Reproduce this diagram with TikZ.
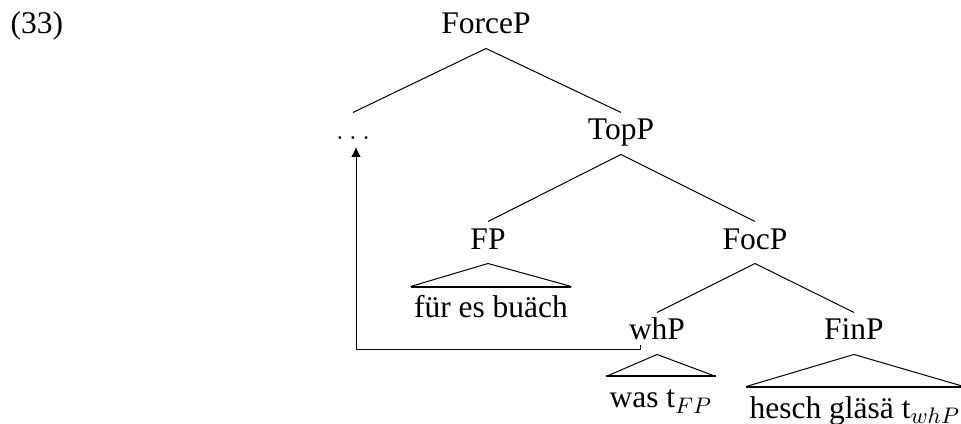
\documentclass[tikz,border=0pt]{standalone}
\usepackage{fontspec}
\setmainfont{Liberation Serif}
\usetikzlibrary{arrows.meta}
\begin{document}
\begin{tikzpicture}[font=\fontsize{12.6}{15}\selectfont,
        cat/.style={anchor=base, inner sep=0pt, text height=10.8pt, text depth=5.6pt},
        leaf/.style={anchor=base, inner xsep=1.2pt, inner ysep=0pt, text height=12.4pt},
        roof/.style={line width=0.8pt}]
        \useasboundingbox (0,0) rectangle (13.511,5.961);

        \node[anchor=base] (ex) at (0.520, 5.483) {(33)};

        \node[cat] (force) at (6.833, 5.483) {ForceP};
        \node[cat] (dots) at (4.963, 3.993) {$\ldots$};
        \node[cat] (top) at (8.731, 3.993) {TopP};
        \draw (force.south) -- (dots.north);
        \draw (force.south) -- (top.north);

        \node[cat] (fp) at (6.861, 2.460) {FP};
        \node[cat] (foc) at (10.615, 2.460) {FocP};
        \draw (top.south) -- (fp.north);
        \draw (top.south) -- (foc.north);

        \node[leaf] (fpw) at (6.903, 1.490) {für es buäch};
        \draw (fp.south) -- (fpw.north west);
        \draw (fp.south) -- (fpw.north east);
        \draw[roof] (fpw.north west) -- (fpw.north east);

        \node[cat] (wh) at (9.237, 1.181) {whP};
        \node[cat] (fin) at (12.006, 1.181) {FinP};
        \draw (foc.south) -- (wh.north);
        \draw (foc.south) -- (fin.north);

        \node[leaf] (whw) at (9.293, 0.225) {was t$_{FP}$};
        \draw (wh.south) -- (whw.north west);
        \draw (wh.south) -- (whw.north east);
        \draw[roof] (whw.north west) -- (whw.north east);

        \node[leaf] (finw) at (12.020, 0.084) {hesch gläsä t$_{whP}$};
        \draw (fin.south) -- (finw.north west);
        \draw (fin.south) -- (finw.north east);
        \draw[roof] (finw.north west) -- (finw.north east);

        \coordinate (whFoot) at ([xshift=-6.8pt,yshift=-2pt]wh.base);
        \draw[-{Latex[length=4pt,width=3.8pt]}] (whFoot) -- ++(0,-2pt) -| ([xshift=1.2pt,yshift=-2.8pt]dots.base);
    \end{tikzpicture}
\end{document}
